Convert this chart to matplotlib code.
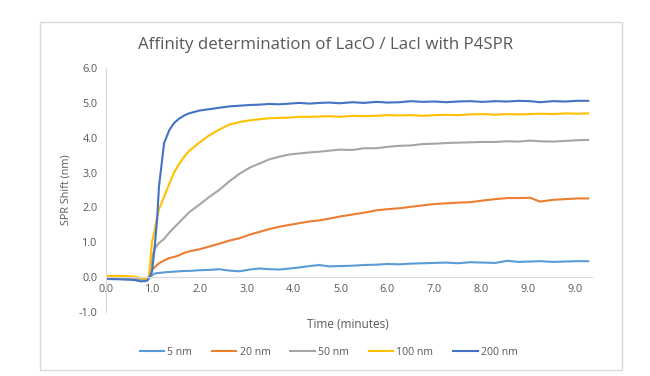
import matplotlib.pyplot as plt
from matplotlib.patches import Rectangle

plt.rcParams['font.family'] = ['Open Sans', 'DejaVu Sans']

# time (minutes, category position) and SPR shift (nm)
time_min = [0, 0.3, 0.6, 0.75, 0.88, 0.92, 0.98, 1.03, 1.09, 1.13, 1.24, 1.35, 1.45, 1.56,
            1.67, 1.77, 1.99, 2.2, 2.41, 2.63, 2.85, 3.06, 3.27, 3.48, 3.7, 3.91, 4.12,
            4.34, 4.55, 4.76, 4.98, 5.26, 5.5, 5.77, 6.0, 6.26, 6.5, 6.75, 7.0, 7.26, 7.5,
            7.76, 8.03, 8.3, 8.55, 8.8, 9.04, 9.25, 9.53, 9.8, 10.05, 10.28]

shift_5nm = [-0.03, -0.04, -0.05, -0.06, -0.05, 0.0, 0.05, 0.1, 0.12, 0.12, 0.14, 0.15, 0.16,
             0.17, 0.18, 0.18, 0.2, 0.21, 0.23, 0.19, 0.17, 0.22, 0.25, 0.23, 0.22, 0.25,
             0.28, 0.32, 0.35, 0.31, 0.32, 0.33, 0.35, 0.36, 0.38, 0.37, 0.39, 0.4, 0.41,
             0.42, 0.4, 0.43, 0.42, 0.41, 0.47, 0.44, 0.45, 0.46, 0.44, 0.45, 0.46, 0.46]
shift_20nm = [0.0, -0.02, -0.03, -0.06, -0.05, 0.03, 0.2, 0.28, 0.35, 0.4, 0.48, 0.55, 0.58,
              0.63, 0.7, 0.74, 0.8, 0.88, 0.96, 1.05, 1.12, 1.22, 1.3, 1.38, 1.45, 1.5,
              1.55, 1.6, 1.63, 1.68, 1.74, 1.8, 1.85, 1.92, 1.95, 1.98, 2.02, 2.06, 2.1,
              2.12, 2.14, 2.15, 2.2, 2.24, 2.27, 2.27, 2.28, 2.17, 2.22, 2.24, 2.26, 2.26]
shift_50nm = [0.0, -0.02, -0.04, -0.06, -0.05, 0.05, 0.55, 0.78, 0.92, 0.98, 1.1, 1.28, 1.42,
              1.57, 1.72, 1.86, 2.08, 2.3, 2.5, 2.75, 2.97, 3.14, 3.26, 3.38, 3.46, 3.52,
              3.55, 3.58, 3.6, 3.63, 3.66, 3.65, 3.7, 3.7, 3.74, 3.77, 3.78, 3.82, 3.83,
              3.85, 3.86, 3.87, 3.88, 3.88, 3.9, 3.89, 3.92, 3.9, 3.89, 3.91, 3.93, 3.94]
shift_100nm = [0.03, 0.04, 0.02, -0.02, -0.05, 0.05, 1.0, 1.3, 1.71, 1.95, 2.31, 2.68, 3.0,
               3.25, 3.46, 3.62, 3.86, 4.07, 4.23, 4.38, 4.45, 4.5, 4.53, 4.56, 4.57, 4.58,
               4.6, 4.6, 4.61, 4.62, 4.6, 4.63, 4.62, 4.63, 4.65, 4.64, 4.65, 4.63, 4.65,
               4.66, 4.65, 4.67, 4.68, 4.66, 4.68, 4.67, 4.68, 4.69, 4.68, 4.7, 4.69, 4.7]
shift_200nm = [-0.05, -0.06, -0.08, -0.12, -0.1, -0.02, 0.15, 0.75, 1.65, 2.6, 3.85, 4.22, 4.42,
               4.55, 4.64, 4.7, 4.78, 4.82, 4.86, 4.9, 4.92, 4.94, 4.95, 4.97, 4.96, 4.98,
               5.0, 4.98, 5.0, 5.01, 4.99, 5.02, 5.0, 5.03, 5.01, 5.02, 5.05, 5.03, 5.04,
               5.02, 5.04, 5.05, 5.03, 5.05, 5.04, 5.06, 5.05, 5.02, 5.05, 5.04, 5.06, 5.06]

series = [('5 nm', shift_5nm, '#5B9BD5'),
          ('20 nm', shift_20nm, '#ED7D31'),
          ('50 nm', shift_50nm, '#A5A5A5'),
          ('100 nm', shift_100nm, '#FFC000'),
          ('200 nm', shift_200nm, '#4472C4')]

x_ticks = list(range(11))
x_labels = ['0.0', '1.0', '2.0', '3.0', '4.0', '5.0', '6.0', '7.0', '8.0', '9.0', '9.0']
y_ticks = [-1, 0, 1, 2, 3, 4, 5, 6]

txt = '#595959'
grid = '#D9D9D9'

fig = plt.figure(figsize=(6.5, 3.76), dpi=100)
ax = fig.add_axes([0.163, 0.170, 0.747, 0.649])

for name, vals, col in series:
    ax.plot(time_min, vals, color=col, lw=1.5, label=name)

ax.set_xlim(0, 10.35)
ax.set_ylim(-1, 6)
ax.set_xticks(x_ticks)
ax.set_xticklabels(x_labels)
ax.set_yticks(y_ticks)
ax.set_yticklabels([f'{v:.1f}' for v in y_ticks])
ax.tick_params(length=0, labelsize=7.8, labelcolor=txt, pad=6)
ax.tick_params(axis='x', pad=5)

for s in ['top', 'right']:
    ax.spines[s].set_visible(False)
ax.spines['bottom'].set_position(('data', 0))
ax.spines['bottom'].set_color(grid)
ax.spines['left'].set_color(grid)

fig.text(326 / 650, 1 - 45 / 376, 'Affinity determination of LacO / LacI with P4SPR',
         fontsize=12.2, color=txt, ha='center', va='center')
ax.set_ylabel('SPR Shift (nm)', fontsize=7.8, color=txt, labelpad=5)
fig.text(348 / 650, 1 - 324 / 376, 'Time (minutes)', fontsize=8.5, color=txt,
         ha='center', va='center')

leg = ax.legend(loc='center', bbox_to_anchor=((328 - 106) / 484, -0.165), ncol=5,
                frameon=False, fontsize=7.6, handlelength=2.3, handletextpad=0.3,
                columnspacing=1.9)
for t in leg.get_texts():
    t.set_color(txt)

# outer chart border
fig.patches.append(Rectangle((40 / 650, 1 - 370 / 376), 582 / 650, 348 / 376,
                             transform=fig.transFigure, fill=False, ec=grid, lw=1))

fig.savefig('out.png', dpi=100, facecolor='white')
